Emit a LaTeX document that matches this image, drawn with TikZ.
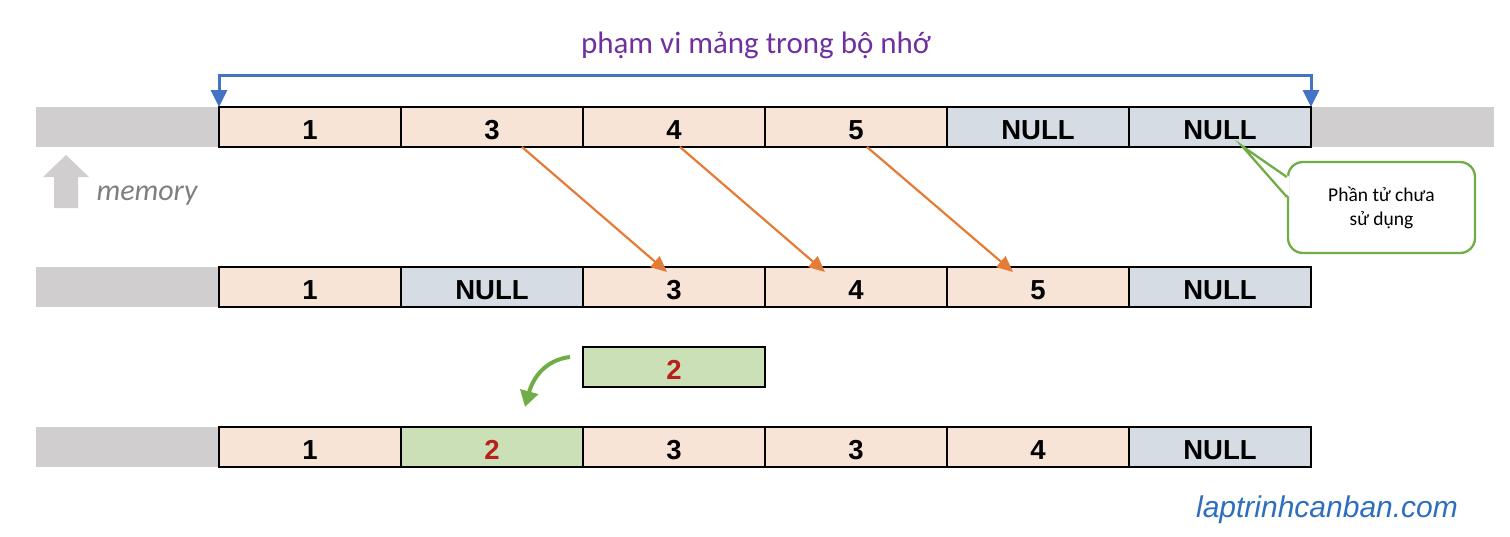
\documentclass[tikz,border=0pt]{standalone}
\usepackage{fontspec}
\setmainfont{Carlito}
\newfontfamily\cellfont{Liberation Sans}
\usetikzlibrary{arrows.meta,calc}
\definecolor{cpink}{HTML}{F8E4D7}
\definecolor{cblue}{HTML}{D6DCE4}
\definecolor{cgreen}{HTML}{CBE0B7}
\definecolor{cband}{HTML}{D0CECE}
\definecolor{cred}{HTML}{B8201A}
\definecolor{cpurple}{HTML}{7030A0}
\definecolor{carrowblue}{HTML}{4472C4}
\definecolor{corange}{HTML}{E47B36}
\definecolor{cgreenline}{HTML}{70AD47}
\definecolor{cmemgray}{HTML}{7F7F7F}
\definecolor{cweb}{HTML}{2D6FBD}
\tikzset{
  cell/.style={draw=black, line width=1.8pt, minimum width=182pt, minimum height=40pt,
    inner sep=0pt, outer sep=0pt, text height=25pt, text depth=0pt,
    font=\cellfont\bfseries\fontsize{27.5}{30}\selectfont},
  pinkcell/.style={cell, fill=cpink},
  nullcell/.style={cell, fill=cblue},
  greencell/.style={cell, fill=cgreen, text=cred},
  band/.style={fill=cband},
  movearrow/.style={draw=corange, line width=2.2pt, -{Triangle[length=16pt,width=14pt]}},
  rangearrow/.style={draw=carrowblue, line width=3pt, {Triangle[length=17pt,width=16pt]}-{Triangle[length=17pt,width=16pt]}},
  insertarrow/.style={draw=cgreenline, line width=4pt, -{Triangle[length=16pt,width=18pt]}},
}
\begin{document}
\begin{tikzpicture}[x=1pt,y=-1pt]
\useasboundingbox (0,0) rectangle (1510,536);
% memory bands
\fill[band] (36,107) rectangle (1494,147);
\fill[band] (36,267) rectangle (219,307);
\fill[band] (36,427) rectangle (219,467);
% row 1
\node[pinkcell] (a1) at (310,127) {1};
\node[pinkcell] (b1) at (492,127) {3};
\node[pinkcell] (c1) at (674,127) {4};
\node[pinkcell] (d1) at (856,127) {5};
\node[nullcell] (e1) at (1038,127) {NULL};
\node[nullcell] (f1) at (1220,127) {NULL};
% row 2
\node[pinkcell] (a2) at (310,287) {1};
\node[nullcell] (b2) at (492,287) {NULL};
\node[pinkcell] (c2) at (674,287) {3};
\node[pinkcell] (d2) at (856,287) {4};
\node[pinkcell] (e2) at (1038,287) {5};
\node[nullcell] (f2) at (1220,287) {NULL};
% new element
\node[greencell] (new) at (674,367) {2};
% row 3
\node[pinkcell] (a3) at (310,447) {1};
\node[greencell] (b3) at (492,447) {2};
\node[pinkcell] (c3) at (674,447) {3};
\node[pinkcell] (d3) at (856,447) {3};
\node[pinkcell] (e3) at (1038,447) {4};
\node[nullcell] (f3) at (1220,447) {NULL};
% title and range arrow
\node[text=cpurple, font=\fontsize{31}{34}\selectfont] (title) at (756,45) {phạm vi mảng trong bộ nhớ};
\coordinate (rangetop) at (765,75);
\draw[rangearrow] (a1.north west) |- (rangetop) -| (f1.north east);
% shift arrows
\draw[movearrow] ($(b1.south)+(30,0)$) -- ($(c2.north)+(-7,5)$);
\draw[movearrow] ($(c1.south)+(6,0)$) -- ($(d2.north)+(-31,5)$);
\draw[movearrow] ($(d1.south)+(11,0)$) -- ($(e2.north)+(-25,5)$);
% insert arrow
\coordinate (insstart) at ($(new.west)+(-13,-10)$);
\coordinate (insend) at (525,407);
\draw[insertarrow] (insstart) .. controls (545,360) and (533,378) .. (insend);
% memory arrow
\fill[band] (43,177) -- (66,155) -- (89,177) -- (78,177) -- (78,208) -- (54,208) -- (54,177) -- cycle;
\node[anchor=west, text=cmemgray, font=\itshape\fontsize{30}{32}\selectfont] (mem) at (93,196) {memory};
% callout
\node[draw=cgreenline, line width=2.3pt, rounded corners=15pt, fill=white,
  minimum width=187pt, minimum height=91pt, align=center,
  font=\fontsize{19.5}{24}\selectfont] (callout) at (1381.5,207.5) {Phần tử chưa\\sử dụng};
\coordinate (ptip) at ($(f1.south)+(22,-1)$);
\fill[white] ($(callout.west)+(2,-31)$) -- (ptip) -- ($(callout.west)+(2,-11)$) -- cycle;
\draw[cgreenline, line width=2.3pt, line join=miter] ($(callout.west)+(0,-30.5)$) -- (ptip) -- ($(callout.west)+(0,-10.5)$);
% watermark
\node[text=cweb, font=\cellfont\itshape\fontsize{30}{32}\selectfont] (web) at (1327,510) {laptrinhcanban.com};
\end{tikzpicture}
\end{document}
